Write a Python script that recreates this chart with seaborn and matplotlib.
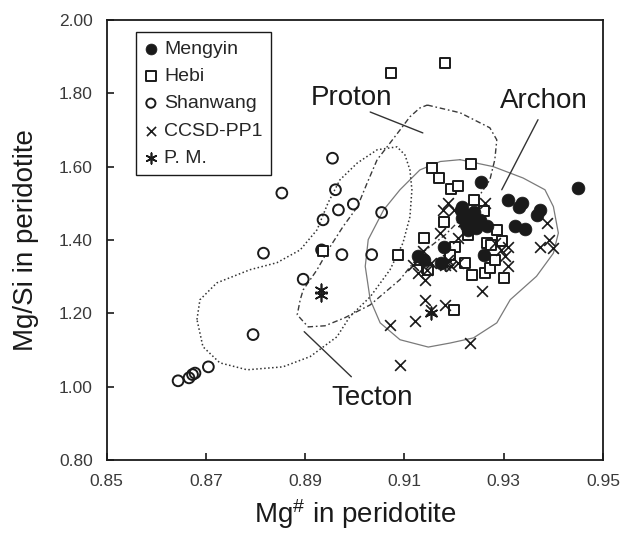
import numpy as np
import pandas as pd
import matplotlib
matplotlib.use("Agg")
import matplotlib.pyplot as plt
import seaborn as sns

# sample points (Mg#, Mg/Si)
mengyin_x = [0.9450, 0.9254, 0.9309, 0.9337, 0.9330, 0.9367, 0.9373, 0.9323, 0.9343,
             0.9213, 0.9226, 0.9233, 0.9223, 0.9253, 0.9267, 0.9244, 0.9216, 0.9180,
             0.9140, 0.9260, 0.9173, 0.9127, 0.9216, 0.9240, 0.9228]
mengyin_y = [1.541, 1.557, 1.510, 1.501, 1.491, 1.469, 1.482, 1.439, 1.430,
             1.482, 1.469, 1.455, 1.441, 1.455, 1.437, 1.432, 1.491, 1.382,
             1.346, 1.360, 1.337, 1.355, 1.460, 1.477, 1.428]

hebi_x = [0.9073, 0.9182, 0.9156, 0.9169, 0.9235, 0.9194, 0.9207, 0.9240, 0.9260,
          0.9180, 0.9227, 0.9267, 0.9140, 0.8935, 0.9086, 0.9131, 0.9145, 0.9202,
          0.9192, 0.9222, 0.9236, 0.9263, 0.9273, 0.9300, 0.9275, 0.9286, 0.9296,
          0.9200, 0.9282, 0.9147]
hebi_y = [1.855, 1.882, 1.596, 1.569, 1.608, 1.539, 1.546, 1.510, 1.478,
          1.450, 1.414, 1.392, 1.405, 1.369, 1.360, 1.346, 1.323, 1.382,
          1.360, 1.337, 1.305, 1.310, 1.323, 1.296, 1.387, 1.428, 1.396,
          1.210, 1.346, 1.319]

shanwang_x = [0.8955, 0.8853, 0.8961, 0.8967, 0.8997, 0.8936, 0.9054, 0.8816, 0.8933,
              0.8974, 0.9034, 0.8896, 0.8795, 0.8705, 0.8673, 0.8666, 0.8644, 0.8678]
shanwang_y = [1.623, 1.528, 1.537, 1.482, 1.498, 1.455, 1.475, 1.364, 1.373,
              1.360, 1.360, 1.293, 1.142, 1.054, 1.033, 1.024, 1.016, 1.037]

ccsd_x = [0.9388, 0.9391, 0.9374, 0.9400, 0.9257, 0.9308, 0.9308, 0.9141, 0.9118,
          0.9138, 0.9142, 0.9154, 0.9181, 0.9071, 0.9121, 0.9233, 0.9091, 0.9178,
          0.9188, 0.9262, 0.9172, 0.9154, 0.9181, 0.9194, 0.9208, 0.9302, 0.9295,
          0.9128, 0.9145, 0.9188, 0.9208, 0.9282, 0.9199]
ccsd_y = [1.446, 1.401, 1.382, 1.378, 1.260, 1.328, 1.382, 1.292, 1.332,
          1.369, 1.237, 1.210, 1.223, 1.169, 1.178, 1.119, 1.060, 1.482,
          1.501, 1.501, 1.419, 1.337, 1.332, 1.328, 1.337, 1.355, 1.373,
          1.310, 1.319, 1.346, 1.405, 1.392, 1.482]

pm_x = [0.8932, 0.8932, 0.9154, 0.9181, 0.9220]
pm_y = [1.251, 1.264, 1.201, 1.335, 1.445]

# field outlines
archon_x = [0.9212, 0.9279, 0.9339, 0.9383, 0.9400, 0.9410, 0.9400, 0.9366, 0.9313,
            0.9286, 0.9239, 0.9192, 0.9148, 0.9091, 0.9051, 0.9031, 0.9021, 0.9027,
            0.9058, 0.9091, 0.9131, 0.9172, 0.9212]
archon_y = [1.619, 1.600, 1.569, 1.537, 1.491, 1.419, 1.364, 1.301, 1.237,
            1.174, 1.133, 1.119, 1.108, 1.128, 1.174, 1.237, 1.328, 1.401,
            1.482, 1.537, 1.591, 1.614, 1.619]

proton_x = [0.9146, 0.9212, 0.9272, 0.9286, 0.9282, 0.9272, 0.9232, 0.9182, 0.9131,
            0.9091, 0.9031, 0.8980, 0.8940, 0.8906, 0.8884, 0.8890, 0.8896, 0.8924,
            0.8950, 0.8976, 0.9005, 0.9025, 0.9045, 0.9065, 0.9091, 0.9111, 0.9131,
            0.9146]
proton_y = [1.768, 1.747, 1.706, 1.673, 1.619, 1.564, 1.482, 1.414, 1.360,
            1.292, 1.223, 1.188, 1.166, 1.163, 1.196, 1.237, 1.264, 1.319,
            1.381, 1.436, 1.490, 1.556, 1.619, 1.654, 1.700, 1.736, 1.760,
            1.768]

tecton_x = [0.8682, 0.8688, 0.8722, 0.8789, 0.8843, 0.8890, 0.8924, 0.8946, 0.8970,
            0.9005, 0.9045, 0.9085, 0.9101, 0.9111, 0.9115, 0.9111, 0.9097, 0.9071,
            0.9031, 0.8990, 0.8964, 0.8910, 0.8855, 0.8783, 0.8728, 0.8694, 0.8682]
tecton_y = [1.183, 1.237, 1.283, 1.319, 1.338, 1.373, 1.428, 1.501, 1.564,
            1.610, 1.646, 1.654, 1.632, 1.591, 1.537, 1.463, 1.392, 1.319,
            1.245, 1.191, 1.136, 1.082, 1.054, 1.046, 1.065, 1.109, 1.183]

# field names, label centres and leader lines
field_names = ["Proton", "Archon", "Tecton"]
label_xy = [(0.8993, 1.788), (0.9381, 1.780), (0.9035, 0.970)]
leader_from = [(0.9031, 1.749), (0.9369, 1.728), (0.8898, 1.150)]
leader_to = [(0.9137, 1.692), (0.9296, 1.537), (0.8993, 1.027)]

x_ticks = [0.85, 0.87, 0.89, 0.91, 0.93, 0.95]
y_ticks = [0.80, 1.00, 1.20, 1.40, 1.60, 1.80, 2.00]

sns.set_style("ticks")
plt.rcParams['font.family'] = ['Liberation Sans', 'DejaVu Sans']
plt.rcParams['mathtext.fontset'] = 'custom'
plt.rcParams['mathtext.rm'] = 'Liberation Sans'
plt.rcParams['mathtext.it'] = 'Liberation Sans'

fig = plt.figure(figsize=(6.22, 5.37), dpi=100)
ax = fig.add_axes([0.1714, 0.1434, 0.7981, 0.8194])

ink = '#1a1a1a'

# outlines
ax.plot(archon_x, archon_y, color='#7a7a7a', lw=0.9, zorder=1)
ax.plot(proton_x, proton_y, color='#3a3a3a', lw=1.0, ls=(0, (4, 2, 1.2, 2)), zorder=1)
ax.plot(tecton_x, tecton_y, color='#333333', lw=1.1, ls=(0, (1, 1.6)), zorder=1)

# points
sns.scatterplot(x=shanwang_x, y=shanwang_y, marker='o', s=60, color=ink, facecolor='none',
                edgecolor=ink, linewidth=1.4, label='Shanwang', ax=ax, zorder=3)
sns.scatterplot(x=hebi_x, y=hebi_y, marker='s', s=60, color=ink, facecolor='white',
                edgecolor=ink, linewidth=1.4, label='Hebi', ax=ax, zorder=3)
sns.scatterplot(x=ccsd_x, y=ccsd_y, marker='x', s=60, color=ink, linewidth=1.2,
                label='CCSD-PP1', ax=ax, zorder=4)
sns.scatterplot(x=pm_x, y=pm_y, marker=(6, 2, 0), s=80, color=ink, linewidth=1.2,
                label='P. M.', ax=ax, zorder=4)
sns.scatterplot(x=mengyin_x, y=mengyin_y, marker='o', s=85, color=ink, edgecolor=ink,
                linewidth=0.5, label='Mengyin', ax=ax, zorder=5)

for name, (tx, ty), (x0, y0), (x1, y1) in zip(field_names, label_xy, leader_from, leader_to):
    ax.plot([x0, x1], [y0, y1], color='#333333', lw=1.0, zorder=2)
    ax.text(tx, ty, name, fontsize=20, color=ink, ha='center', va='center')

ax.set_xlim(0.85, 0.95)
ax.set_ylim(0.80, 2.00)
ax.set_xticks(x_ticks)
ax.set_yticks(y_ticks)
ax.set_xticklabels([f"{v:.2f}" for v in x_ticks])
ax.set_yticklabels([f"{v:.2f}" for v in y_ticks])
ax.tick_params(direction='in', length=5, width=1.2, labelsize=12.5, pad=10,
               colors=ink, labelcolor='#3a3a3a')
for sp in ax.spines.values():
    sp.set_linewidth(1.3)
    sp.set_color(ink)

ax.set_xlabel("Mg$^{\\#}$ in peridotite", fontsize=20, color=ink, labelpad=6)
ax.set_ylabel("Mg/Si in peridotite", fontsize=20, color=ink, labelpad=14)

handles, labels = ax.get_legend_handles_labels()
order = ['Mengyin', 'Hebi', 'Shanwang', 'CCSD-PP1', 'P. M.']
hmap = dict(zip(labels, handles))
leg = ax.legend([hmap[k] for k in order], order, loc='upper left',
                bbox_to_anchor=(0.059, 0.973), borderaxespad=0, fontsize=14,
                frameon=True, fancybox=False, edgecolor=ink, framealpha=1,
                handlelength=0.7, handletextpad=0.35, labelspacing=0.5,
                borderpad=0.42, markerscale=0.85)
leg.get_frame().set_linewidth(1.0)

fig.savefig("out.png", dpi=100)
